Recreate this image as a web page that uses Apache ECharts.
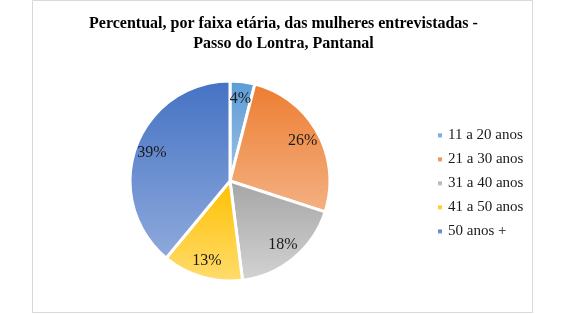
<!DOCTYPE html>
<html>
<head>
<meta charset="utf-8">
<script src="https://cdn.jsdelivr.net/npm/echarts@6/dist/echarts.min.js"></script>
<style>
  html, body { margin: 0; padding: 0; background: #fff; }
  #chart { width: 567px; height: 314px; }
</style>
</head>
<body>
<div id="chart"></div>
<script>
var categories = ['11 a 20 anos', '21 a 30 anos', '31 a 40 anos', '41 a 50 anos', '50 anos +'];
var values = [4, 26, 18, 13, 39];
var topColors = ['#5B9BD5', '#ED7D31', '#A5A5A5', '#FFC000', '#4472C4'];
var bottomColors = ['#9DC3E6', '#F4B183', '#D3D3D3', '#FFDC6E', '#8FAADC'];

var serif = '"Liberation Serif", "Times New Roman", serif';

function grad(i) {
    return new echarts.graphic.LinearGradient(0, 0, 0, 1, [
        { offset: 0, color: topColors[i] },
        { offset: 1, color: bottomColors[i] }
    ]);
}

var pieData = categories.map(function (c, i) {
    return { name: c, value: values[i], itemStyle: { color: grad(i) } };
});
var labelData = categories.map(function (c, i) {
    return { name: c, value: values[i] };
});

var dom = document.getElementById('chart');
var myChart = echarts.init(dom);
var option = {
    animation: false,
    backgroundColor: '#fff',
    title: {
        text: 'Percentual, por faixa etária, das mulheres entrevistadas -\nPasso do Lontra, Pantanal',
        left: 'center',
        top: 9,
        textStyle: { fontFamily: serif, fontSize: 16, fontWeight: 'bold', color: '#000', lineHeight: 20 }
    },
    legend: {
        orient: 'vertical',
        left: 431,
        top: 123,
        itemWidth: 6,
        itemHeight: 6,
        itemGap: 9,
        icon: 'rect',
        data: categories,
        textStyle: { fontFamily: serif, fontSize: 15, color: '#1a1a1a' }
    },
    graphic: [{
        type: 'rect',
        shape: { x: 32.5, y: 0.5, width: 500, height: 312 },
        style: { fill: 'none', stroke: '#d9d9d9', lineWidth: 1 },
        silent: true
    }],
    series: [{
        type: 'pie',
        center: [230, 181],
        radius: [0, 100],
        startAngle: 90,
        clockwise: true,
        label: { show: false },
        labelLine: { show: false },
        itemStyle: { borderColor: '#fff', borderWidth: 3 },
        emphasis: { disabled: true },
        data: pieData
    }, {
        type: 'pie',
        center: [230, 181],
        radius: [60, 100],
        startAngle: 90,
        clockwise: true,
        silent: true,
        itemStyle: { color: 'rgba(0,0,0,0)' },
        label: {
            show: true,
            position: 'inside',
            formatter: '{c}%',
            fontFamily: serif,
            fontSize: 16,
            color: '#1a1a1a'
        },
        labelLine: { show: false },
        emphasis: { disabled: true },
        data: labelData
    }]
};
myChart.setOption(option, true);
</script>
</body>
</html>
